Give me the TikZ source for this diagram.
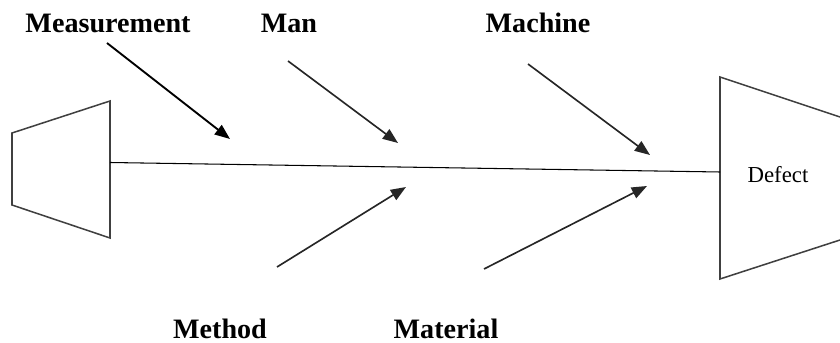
\documentclass[tikz,border=0pt]{standalone}
\usepackage{fontspec}
\setmainfont{Liberation Serif}
\usetikzlibrary{arrows.meta}

\begin{document}
\begin{tikzpicture}[x = 0.03cm, y = -0.03cm,
		cause/.style = {font=\fontsize{24}{24}\selectfont\bfseries, anchor=base, inner sep=0pt},
		bone/.style = {line width=1.4pt, black!85, -{Triangle[length=13pt, width=10pt]}},
		box/.style = {line width=1.3pt, black!75, line join=miter}]
		\useasboundingbox (0,0) rectangle (840,343);
		% fish tail and head
		\draw [box] (12,133) -- (110,101) -- (110,238) -- (12,205) -- cycle;
		\draw [box] (840,117) -- (720,77) -- (720,279) -- (840,240);
		\node [font=\fontsize{19.5}{19.5}\selectfont, anchor=base] (defect) at (778,183) {Defect};
		% spine
		\coordinate (tail) at (110,162.5);
		\coordinate (head) at (720,172);
		\draw [line width=0.9pt] (tail) -- (head);
		% causes
		\node [cause] (meas) at (108,33) {Measurement};
		\node [cause] (man) at (289,33) {Man};
		\node [cause] (mach) at (538,33) {Machine};
		\node [cause] (meth) at (220,338) {Method};
		\node [cause] (mat) at (446,338) {Material};
		\coordinate (meas1) at (107,43);   \coordinate (meas2) at (230,139);
		\coordinate (man1) at (288,61);    \coordinate (man2) at (398,143);
		\coordinate (mach1) at (528,64);   \coordinate (mach2) at (650,155);
		\coordinate (meth1) at (277,267);  \coordinate (meth2) at (406,187);
		\coordinate (mat1) at (484,269);   \coordinate (mat2) at (647,186);
		\draw [bone, black, line width=1.6pt] (meas1) -- (meas2);
		\draw [bone] (man1) -- (man2);
		\draw [bone] (mach1) -- (mach2);
		\draw [bone] (meth1) -- (meth2);
		\draw [bone] (mat1) -- (mat2);
	\end{tikzpicture}
\end{document}
